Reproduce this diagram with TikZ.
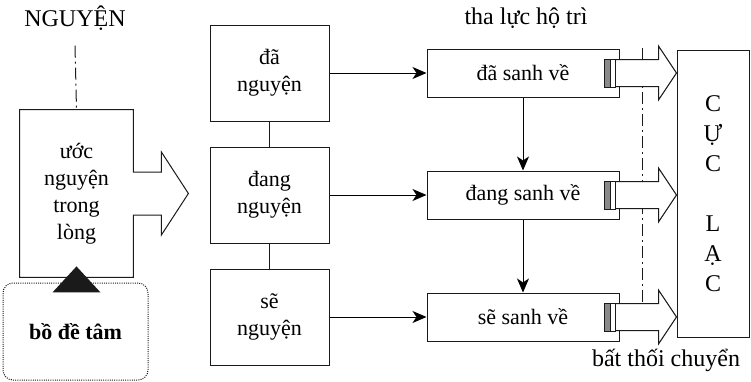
\documentclass[tikz,border=0pt]{standalone}
\usepackage{fontspec}
\setmainfont{Liberation Serif}
\usepackage{xcolor}
\usepackage{tikz}
\usetikzlibrary{calc,arrows.meta,positioning}
\definecolor{ink}{HTML}{1A1A1A}
\definecolor{paper}{HTML}{FFFFFF}
\definecolor{bar}{HTML}{8A8A8A}
\tikzset{
  wish/.style={draw=ink,line width=0.5pt,minimum width=59.5pt,minimum height=48pt,inner sep=2pt,align=center,font=\fontsize{11}{13.5}\selectfont,fill=paper},
  birth/.style={draw=ink,line width=0.5pt,minimum width=96pt,minimum height=24pt,inner sep=2pt,font=\fontsize{11}{13.5}\selectfont,fill=paper},
  lbl/.style={font=\fontsize{12}{14}\selectfont,inner sep=1pt},
  divide/.style={draw=ink,line width=0.5pt,dash pattern=on 6pt off 2pt on 1pt off 2pt},
  hollow/.style={draw=ink,line width=0.5pt,fill=paper},
  fl/.style={-{Stealth[length=7pt,width=6pt,inset=2pt]},line width=0.5pt},
  >=Stealth}

\begin{document}
\begin{tikzpicture}[x=0.5pt,y=-0.5pt,
  core/.style={minimum width=56.5pt,minimum height=83.5pt,inner sep=2pt,align=center,
    font=\fontsize{11}{13.5}\selectfont},
  seed/.style={draw=ink,line width=0.5pt,dash pattern=on 0.5pt off 0.6pt,rounded corners=5pt,
    minimum width=72.5pt,minimum height=48.5pt,font=\fontsize{11}{13.5}\selectfont\bfseries},
  goal/.style={draw=ink,line width=0.5pt,minimum width=36pt,minimum height=143.5pt,inner sep=2pt,
    align=center,font=\fontsize{12}{15}\selectfont}]
\useasboundingbox (0,0) rectangle (751,381);

% left column
\node[lbl] (ng) at (75,18) {NGUYỆN};
\node[seed] (bd) at (75.5,331.5) {bồ đề tâm};
\node[core] (heart) at (76.5,193.5) {ước\\nguyện\\trong\\lòng};
\draw[line width=0.5pt,ink] (heart.north west) -- (heart.north east) -- ($(heart.east)+(0,-21.5)$)
  -- ($(heart.east)+(28,-21.5)$) -- ($(heart.east)+(28,-41.5)$) -- ($(heart.east)+(55,0)$)
  -- ($(heart.east)+(28,41.5)$) -- ($(heart.east)+(28,21.5)$) -- ($(heart.east)+(0,21.5)$)
  -- (heart.south east) -- (heart.south west) -- cycle;
\draw[divide] ($(ng.south)+(0,13)$) -- (heart.north);
\fill[ink] ($(heart.south)+(0,-11)$) -- ++(24,26) -- ++(-48,0) -- cycle;

% wishes and births
\node[wish] (m1) at (269.5,73) {đã\\nguyện};
\node[wish,below=12.5pt of m1] (m2) {đang\\nguyện};
\node[wish,below=12.5pt of m2] (m3) {sẽ\\nguyện};
\node[birth,right=48.5pt of m1] (r1) {đã sanh về};
\node[birth,right=48.5pt of m2] (r2) {đang sanh về};
\node[birth,right=48.5pt of m3] (r3) {sẽ sanh về};
\node[goal] (cl) at (713,193.5) {C\\Ự\\C\\[15pt]L\\Ạ\\C};

\draw[line width=0.5pt,ink] (m1) -- (m2);
\draw[line width=0.5pt,ink] (m2) -- (m3);
\draw[fl] (m1) -- (r1);
\draw[fl] (m2) -- (r2);
\draw[fl] (m3) -- (r3);
\draw[fl] (r1) -- (r2);
\draw[fl] (r2) -- (r3);

\node[lbl] (tl) at (526,18) {tha lực hộ trì};
\node[lbl] (bt) at (666,360) {bất thối chuyển};
\draw[divide] (642,48) -- (642,332);

\foreach \r in {r1,r2,r3}{
  \draw[hollow] ($(\r.east)+(-4,-13.5)$) -- ($(\r.east)+(39,-13.5)$) -- ($(\r.east)+(39,-27)$)
    -- (cl.west |- \r.east) -- ($(\r.east)+(39,27)$) -- ($(\r.east)+(39,13.5)$) -- ($(\r.east)+(-4,13.5)$);
  \draw[ink,line width=0.4pt,fill=bar] ($(\r.east)+(-15,-14)$) rectangle ++(5.5,28);
  \draw[ink,line width=0.4pt,fill=paper] ($(\r.east)+(-9.5,-14)$) rectangle ++(5.5,28);
}
\end{tikzpicture}
\end{document}
